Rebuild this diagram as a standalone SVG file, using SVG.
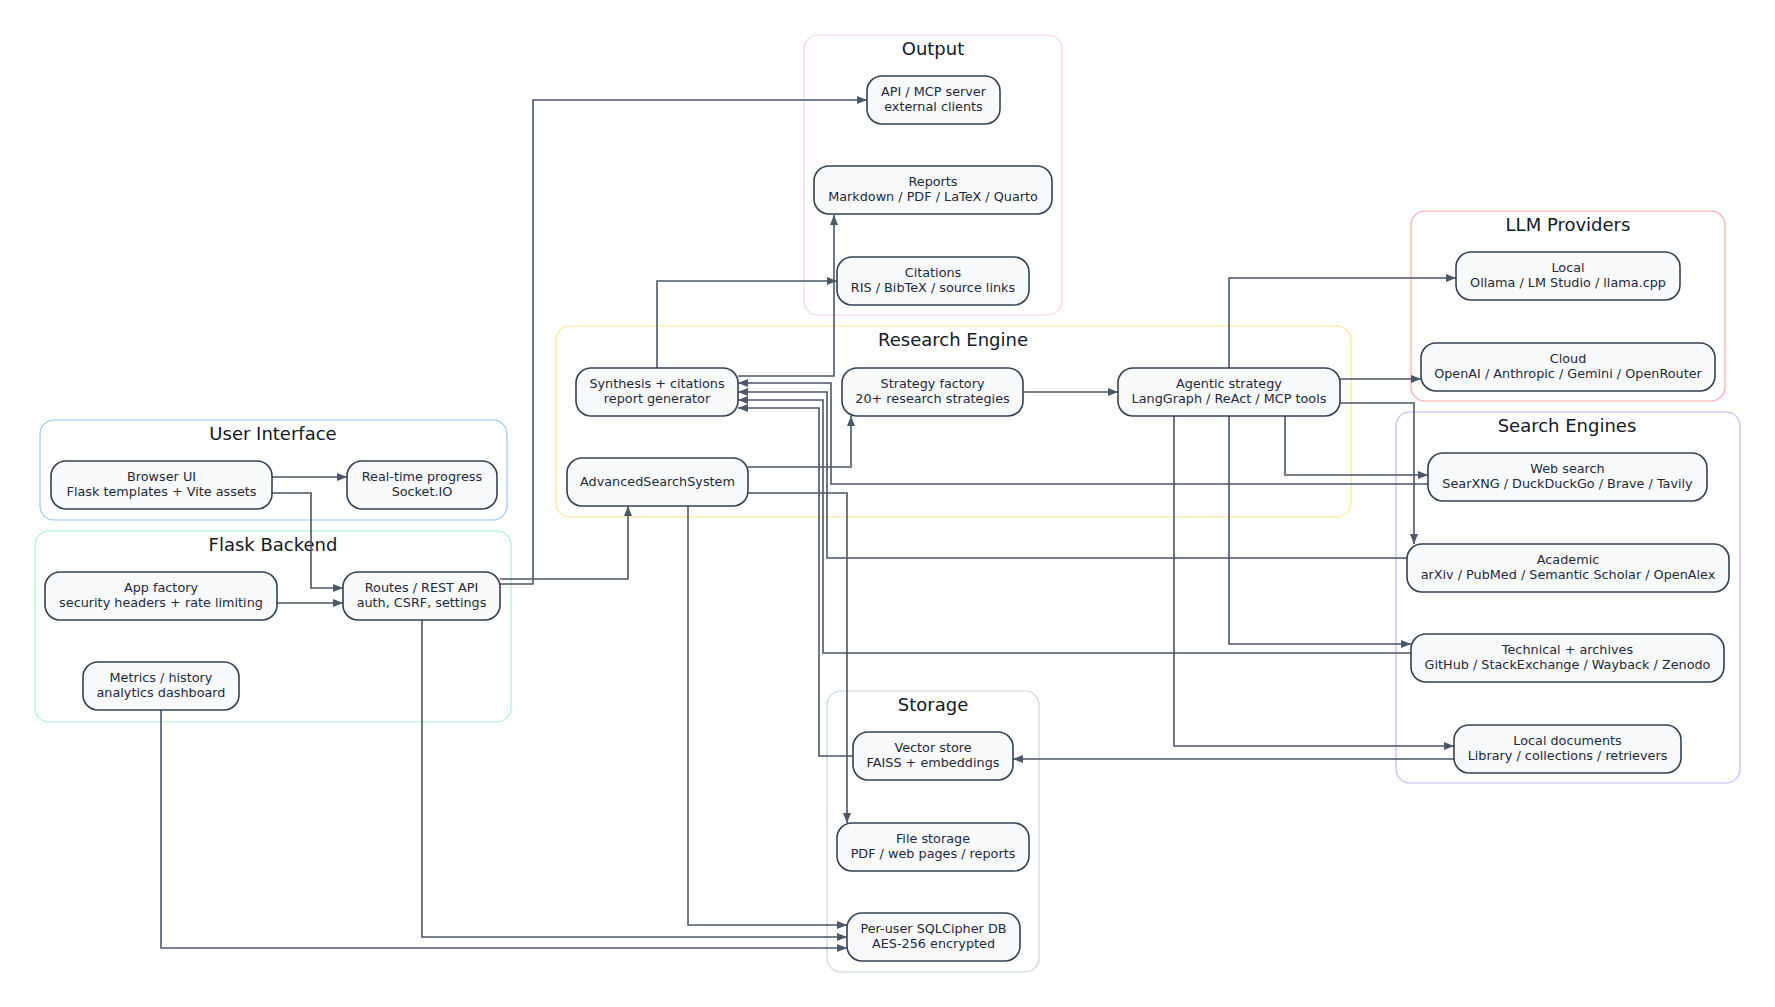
<svg xmlns="http://www.w3.org/2000/svg" width="1775" height="1007" viewBox="0 0 1775 1007">
<defs>
<style>
.cl{fill:#ffffff;stroke-width:1.2}
.ct{font-family:"DejaVu Sans",sans-serif;font-size:18px;fill:#111827;text-anchor:middle}
.nd rect{fill:#f8fafc;stroke:#334155;stroke-width:1.6}
.nd text{font-family:"DejaVu Sans",sans-serif;font-size:12.8px;fill:#1e293b;text-anchor:middle}
.ed path{fill:none;stroke:#4b5668;stroke-width:1.6}
</style>
<marker id="ah" markerWidth="11" markerHeight="9" refX="10" refY="4" orient="auto" markerUnits="userSpaceOnUse">
<path d="M0,0 L10,4 L0,8 z" fill="#4b5668"/>
</marker>
</defs>
<rect width="1775" height="1007" fill="#ffffff"/>

<g id="clusters">
<g id="cluster-output"><rect class="cl" x="804" y="35" width="258" height="280" rx="14" stroke="#fbcfe8"/><text class="ct" x="933" y="55">Output</text></g>
<g id="cluster-ui"><rect class="cl" x="40" y="420" width="467" height="100" rx="14" stroke="#93c5fd"/><text class="ct" x="273" y="440">User Interface</text></g>
<g id="cluster-flask"><rect class="cl" x="35" y="531" width="476" height="191" rx="14" stroke="#a7f3d0"/><text class="ct" x="273" y="551">Flask Backend</text></g>
<g id="cluster-research"><rect class="cl" x="556" y="326" width="795" height="191" rx="14" stroke="#fde68a"/><text class="ct" x="953" y="346">Research Engine</text></g>
<g id="cluster-llm"><rect class="cl" x="1411" y="211" width="314" height="190" rx="14" stroke="#fca5a5"/><text class="ct" x="1568" y="231">LLM Providers</text></g>
<g id="cluster-search"><rect class="cl" x="1396" y="412" width="344" height="371" rx="14" stroke="#c4b5fd"/><text class="ct" x="1567" y="432">Search Engines</text></g>
<g id="cluster-storage"><rect class="cl" x="827" y="691" width="212" height="281" rx="14" stroke="#cbd5e1"/><text class="ct" x="933" y="711">Storage</text></g>
</g>

<g id="connectors" class="ed">
<path d="M272,477 H347" marker-end="url(#ah)"/>
<path d="M272,493 H311 V588 H343" marker-end="url(#ah)"/>
<path d="M277,603 H343" marker-end="url(#ah)"/>
<path d="M500,579 H628 V506" marker-end="url(#ah)"/>
<path d="M500,584 H533 V100 H867" marker-end="url(#ah)"/>
<path d="M422,620 V937 H847" marker-end="url(#ah)"/>
<path d="M161,710 V948 H847" marker-end="url(#ah)"/>
<path d="M688,506 V925 H847" marker-end="url(#ah)"/>
<path d="M748,467 H851 V416" marker-end="url(#ah)"/>
<path d="M748,493 H847 V823" marker-end="url(#ah)"/>
<path d="M1023,392 H1118" marker-end="url(#ah)"/>
<path d="M1229,368 V278 H1456" marker-end="url(#ah)"/>
<path d="M1340,379 H1421" marker-end="url(#ah)"/>
<path d="M1340,403 H1414 V544" marker-end="url(#ah)"/>
<path d="M1285,416 V475 H1428" marker-end="url(#ah)"/>
<path d="M1229,416 V644 H1411" marker-end="url(#ah)"/>
<path d="M1174,416 V746 H1454" marker-end="url(#ah)"/>
<path d="M1428,484 H831 V383 H738" marker-end="url(#ah)"/>
<path d="M1407,558 H827 V392 H738" marker-end="url(#ah)"/>
<path d="M1411,653 H823 V400 H738" marker-end="url(#ah)"/>
<path d="M853,756 H819 V408 H738" marker-end="url(#ah)"/>
<path d="M1454,759 H1013" marker-end="url(#ah)"/>
<path d="M738,376 H834 V215" marker-end="url(#ah)"/>
<path d="M657,368 V281 H837" marker-end="url(#ah)"/>
</g>

<g id="nodes">
<g id="n-api" class="nd"><rect x="867" y="76" width="133" height="48" rx="15"/><text x="933.5" y="96">API / MCP server</text><text x="933.5" y="111">external clients</text></g>
<g id="n-reports" class="nd"><rect x="814" y="166" width="238" height="48" rx="15"/><text x="933" y="186">Reports</text><text x="933" y="201">Markdown / PDF / LaTeX / Quarto</text></g>
<g id="n-citations" class="nd"><rect x="837" y="257" width="192" height="48" rx="15"/><text x="933" y="277">Citations</text><text x="933" y="292">RIS / BibTeX / source links</text></g>
<g id="n-browser" class="nd"><rect x="51" y="461" width="221" height="48" rx="15"/><text x="161.5" y="481">Browser UI</text><text x="161.5" y="496">Flask templates + Vite assets</text></g>
<g id="n-realtime" class="nd"><rect x="347" y="461" width="150" height="48" rx="15"/><text x="422" y="481">Real-time progress</text><text x="422" y="496">Socket.IO</text></g>
<g id="n-appfactory" class="nd"><rect x="45" y="572" width="232" height="48" rx="15"/><text x="161" y="592">App factory</text><text x="161" y="607">security headers + rate limiting</text></g>
<g id="n-routes" class="nd"><rect x="343" y="572" width="157" height="48" rx="15"/><text x="421.5" y="592">Routes / REST API</text><text x="421.5" y="607">auth, CSRF, settings</text></g>
<g id="n-metrics" class="nd"><rect x="83" y="662" width="156" height="48" rx="15"/><text x="161" y="682">Metrics / history</text><text x="161" y="697">analytics dashboard</text></g>
<g id="n-synthesis" class="nd"><rect x="576" y="368" width="162" height="48" rx="15"/><text x="657" y="388">Synthesis + citations</text><text x="657" y="403">report generator</text></g>
<g id="n-factory" class="nd"><rect x="842" y="368" width="181" height="48" rx="15"/><text x="932.5" y="388">Strategy factory</text><text x="932.5" y="403">20+ research strategies</text></g>
<g id="n-agentic" class="nd"><rect x="1118" y="368" width="222" height="48" rx="15"/><text x="1229" y="388">Agentic strategy</text><text x="1229" y="403">LangGraph / ReAct / MCP tools</text></g>
<g id="n-ass" class="nd"><rect x="567" y="458" width="181" height="48" rx="15"/><text x="657.5" y="486">AdvancedSearchSystem</text></g>
<g id="n-localllm" class="nd"><rect x="1456" y="252" width="224" height="48" rx="15"/><text x="1568" y="272">Local</text><text x="1568" y="287">Ollama / LM Studio / llama.cpp</text></g>
<g id="n-cloud" class="nd"><rect x="1421" y="343" width="294" height="48" rx="15"/><text x="1568" y="363">Cloud</text><text x="1568" y="378">OpenAI / Anthropic / Gemini / OpenRouter</text></g>
<g id="n-web" class="nd"><rect x="1428" y="453" width="279" height="48" rx="15"/><text x="1567.5" y="473">Web search</text><text x="1567.5" y="488">SearXNG / DuckDuckGo / Brave / Tavily</text></g>
<g id="n-academic" class="nd"><rect x="1407" y="544" width="322" height="48" rx="15"/><text x="1568" y="564">Academic</text><text x="1568" y="579">arXiv / PubMed / Semantic Scholar / OpenAlex</text></g>
<g id="n-technical" class="nd"><rect x="1411" y="634" width="313" height="48" rx="15"/><text x="1567.5" y="654">Technical + archives</text><text x="1567.5" y="669">GitHub / StackExchange / Wayback / Zenodo</text></g>
<g id="n-localdocs" class="nd"><rect x="1454" y="725" width="227" height="48" rx="15"/><text x="1567.5" y="745">Local documents</text><text x="1567.5" y="760">Library / collections / retrievers</text></g>
<g id="n-vector" class="nd"><rect x="853" y="732" width="160" height="48" rx="15"/><text x="933" y="752">Vector store</text><text x="933" y="767">FAISS + embeddings</text></g>
<g id="n-file" class="nd"><rect x="837" y="823" width="192" height="48" rx="15"/><text x="933" y="843">File storage</text><text x="933" y="858">PDF / web pages / reports</text></g>
<g id="n-db" class="nd"><rect x="847" y="913" width="173" height="48" rx="15"/><text x="933.5" y="933">Per-user SQLCipher DB</text><text x="933.5" y="948">AES-256 encrypted</text></g>
</g>
</svg>
